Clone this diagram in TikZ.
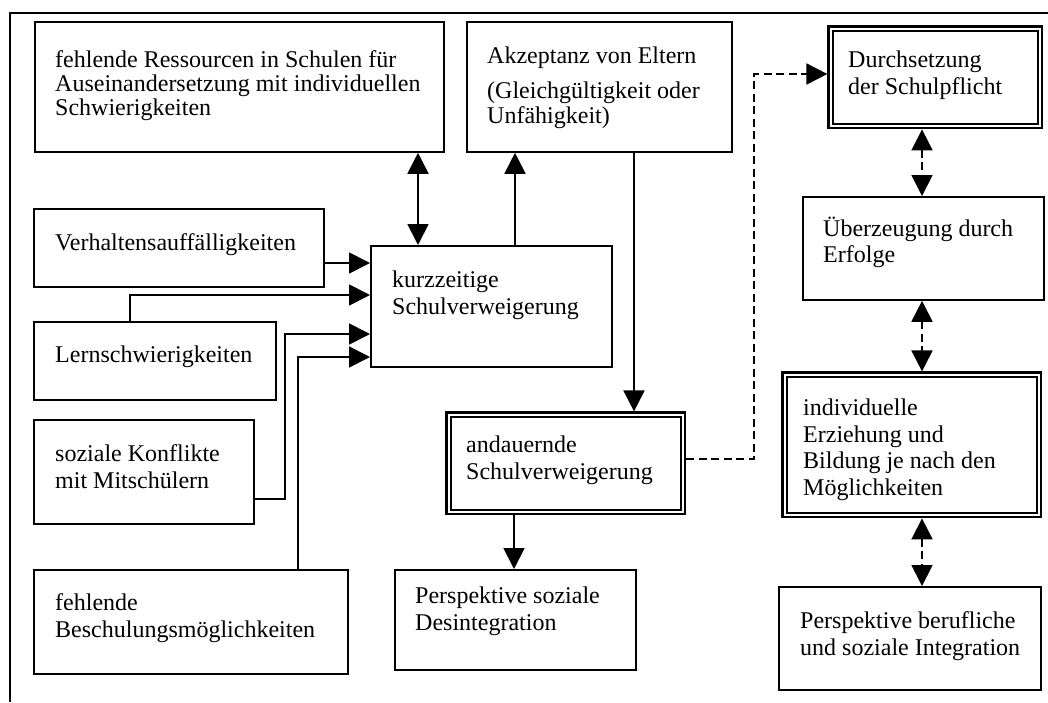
\documentclass[tikz,border=0pt]{standalone}
\usepackage{fontspec}
\setmainfont{Liberation Serif}
\usetikzlibrary{arrows.meta}
\begin{document}
\begin{tikzpicture}[x=1pt,y=-1pt,
  >={Triangle[length=21pt,width=21pt]},
  box/.style 2 args={draw, line width=1.8pt, minimum width=#1, minimum height=#2,
    anchor=north west, inner sep=0pt},
  dbox/.style 2 args={draw, line width=2.4pt, double, double distance=2pt,
    minimum width=#1, minimum height=#2, anchor=north west, inner sep=0pt, outer sep=3.4pt},
  txt/.style={anchor=north west, inner sep=0pt, align=left,
    font=\fontsize{24}{26.7}\selectfont},
  conn/.style={line width=1.8pt},
  dconn/.style={line width=1.8pt, dash pattern=on 8pt off 4.5pt},
  frame/.style={line width=1.5pt}
]
\useasboundingbox (0,0) rectangle (1048,702);
\fill[white] (0,0) rectangle (1048,702);

% outer frame
\draw[frame] (10,702) -- (10,13) -- (1048,13);

% boxes
\node[box={409pt}{130pt}] (res)   at (34,21)  {};
\node[box={265pt}{130pt}] (akz)   at (466,21) {};
\node[box={290pt}{78pt}]  (verh)  at (33,208) {};
\node[box={242pt}{78pt}]  (lern)  at (33,321) {};
\node[box={220pt}{104pt}] (soz)   at (33,419) {};
\node[box={314pt}{104pt}] (besch) at (33,569) {};
\node[box={241pt}{121pt}] (kurz)  at (370,245) {};
\node[box={241pt}{100pt}] (desi)  at (394,569) {};
\node[box={241pt}{103pt}] (ueber) at (802,196) {};
\node[box={262pt}{103pt}] (integ) at (778,586) {};
\node[dbox={234.2pt}{97.2pt}]  (anda)  at (445.4,411.4) {};
\node[dbox={209.2pt}{97.2pt}]  (durch) at (827.4,25.4) {};
\node[dbox={254.2pt}{140.2pt}] (indi)  at (781.4,371.4) {};

% texts
\node[txt, font=\fontsize{24}{24}\selectfont] (res-t) at (55,50.6)
  {fehlende Ressourcen in Schulen für\\Auseinandersetzung mit individuellen\\Schwierigkeiten};
\node[txt, font=\fontsize{24}{25}\selectfont] (akz-t) at (487,46.6)
  {Akzeptanz von Eltern\\[10pt](Gleichgültigkeit oder\\Unfähigkeit)};
\node[txt] (verh-t)  at (55,233.6)  {Verhaltensauffälligkeiten};
\node[txt] (lern-t)  at (55,345.6)  {Lernschwierigkeiten};
\node[txt] (soz-t)   at (55,444.6)  {soziale Konflikte\\mit Mitschülern};
\node[txt] (besch-t) at (55,593.6)  {fehlende\\Beschulungsmöglichkeiten};
\node[txt] (kurz-t)  at (392,270.6) {kurzzeitige\\Schulverweigerung};
\node[txt] (anda-t)  at (466,435.6) {andauernde\\Schulverweigerung};
\node[txt] (desi-t)  at (415,586.6) {Perspektive soziale\\Desintegration};
\node[txt] (durch-t) at (848,50.6)  {Durchsetzung\\der Schulpflicht};
\node[txt] (ueber-t) at (823,216.5) {Überzeugung durch\\Erfolge};
\node[txt] (indi-t)  at (803,398.6) {individuelle\\Erziehung und\\Bildung je nach den\\Möglichkeiten};
\node[txt] (integ-t) at (800,611.6) {Perspektive berufliche\\und soziale Integration};

% routing points
\coordinate (xa) at (418,0);
\coordinate (xb) at (515,0);
\coordinate (xc) at (634,0);
\coordinate (ya) at (0,263);
\coordinate (xl) at (130,0);
\coordinate (yl) at (0,295);
\coordinate (sk) at (285,499);
\coordinate (ys) at (0,334);
\coordinate (xf) at (298,0);
\coordinate (yf) at (0,357);
\coordinate (xd) at (514,0);
\coordinate (ye) at (0,459);
\coordinate (dk) at (754,74);
\coordinate (xr) at (922,0);

% solid connectors
\draw[conn,<->] (res.south -| xa) -- (kurz.north -| xa);
\draw[conn,->] (kurz.north -| xb) -- (akz.south -| xb);
\draw[conn,->] (akz.south -| xc) -- (anda.north -| xc);
\draw[conn,->] (verh.east |- ya) -- (kurz.west |- ya);
\draw[conn,->] (lern.north -| xl) |- (kurz.west |- yl);
\draw[conn,->] (soz.east |- sk) -- (sk) |- (kurz.west |- ys);
\draw[conn,->] (besch.north -| xf) |- (kurz.west |- yf);
\draw[conn,->] (anda.south -| xd) -- (desi.north -| xd);

% dashed connectors
\draw[dconn,->] (anda.east |- ye) -| (dk) -- (durch.west |- dk);
\draw[dconn,<->] (durch.south -| xr) -- (ueber.north -| xr);
\draw[dconn,<->] (ueber.south -| xr) -- (indi.north -| xr);
\draw[dconn,<->] (indi.south -| xr) -- (integ.north -| xr);
\end{tikzpicture}
\end{document}
